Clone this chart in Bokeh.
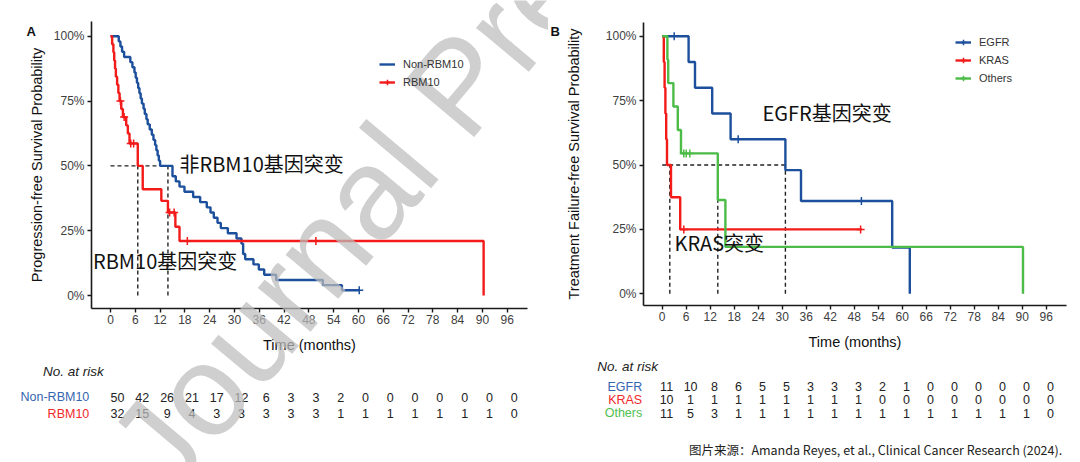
from bokeh.plotting import figure
from bokeh.models import (ColumnDataSource, FixedTicker, Label, LabelSet, Legend,
                          LegendItem, Range1d)
from bokeh.layouts import row
from bokeh.embed import file_html
from bokeh.resources import INLINE
from bokeh.core.properties import value

# ------------------------------------------------------------------ data
time_ticks = [0, 6, 12, 18, 24, 30, 36, 42, 48, 54, 60, 66, 72, 78, 84, 90, 96]
time_tick_labels = ["0", "6", "12", "18", "24", "30", "36", "42", "48", "54",
                    "60", "66", "72", "78", "84", "90", "96"]
surv_ticks = [0.0, 0.25, 0.5, 0.75, 1.0]
surv_tick_labels = ["0%", "25%", "50%", "75%", "100%"]

# Panel A : progression-free survival
a_non_t = [0, 2.0, 2.4, 2.8, 3.3, 4.8, 5.3, 5.8, 6.1, 6.4, 6.7, 7.0, 7.3, 7.6, 8.0,
           8.3, 8.7, 9.0, 9.5, 10.0, 10.4, 10.8, 11.1, 11.4, 11.7, 12.0, 15.0, 15.8,
           16.7, 17.9, 20.0, 21.7, 23.3, 24.2, 25.0, 25.9, 26.7, 28.4, 30.5, 31.7,
           32.1, 32.6, 34.6, 35.9, 37.2, 40.1, 51.4, 56.0, 60.2]
a_non_s = [1.0, 0.98, 0.96, 0.94, 0.92, 0.90, 0.88, 0.86, 0.84, 0.82, 0.80, 0.78, 0.76,
           0.74, 0.72, 0.70, 0.68, 0.66, 0.64, 0.62, 0.60, 0.58, 0.56, 0.54, 0.52, 0.50,
           0.46, 0.44, 0.42, 0.40, 0.38, 0.36, 0.34, 0.32, 0.30, 0.28, 0.26, 0.24, 0.22,
           0.20, 0.16, 0.14, 0.12, 0.10, 0.08, 0.06, 0.04, 0.02, 0.02]
a_non_cens_t = [60.2]
a_non_cens_s = [0.02]

a_rbm_t = [0, 0.4, 0.7, 0.9, 1.1, 1.3, 1.6, 1.9, 2.2, 2.6, 3.0, 3.8, 4.2, 4.6, 6.6,
           7.8, 12.3, 13.9, 15.7, 16.7, 90.3]
a_rbm_s = [1.0, 0.969, 0.938, 0.906, 0.875, 0.844, 0.813, 0.781, 0.750, 0.719, 0.688,
           0.656, 0.625, 0.586, 0.50, 0.41, 0.365, 0.32, 0.265, 0.21, 0.0]
a_rbm_cens_t = [2.4, 3.3, 4.9, 5.6, 14.3, 15.4, 18.6, 49.7]
a_rbm_cens_s = [0.75, 0.688, 0.586, 0.586, 0.32, 0.32, 0.21, 0.21]

a_medians = [6.6, 13.9]
a_risk_names = ["Non-RBM10", "RBM10"]
a_risk_non = [50, 42, 26, 21, 17, 12, 6, 3, 3, 2, 0, 0, 0, 0, 0, 0, 0]
a_risk_rbm = [32, 15, 9, 4, 3, 3, 3, 3, 3, 1, 1, 1, 1, 1, 1, 1, 0]

# Panel B : treatment failure-free survival
b_egfr_t = [0, 6.6, 8.2, 12.5, 17.1, 30.8, 34.7, 57.5, 61.9]
b_egfr_s = [1.0, 0.90, 0.80, 0.70, 0.60, 0.48, 0.36, 0.18, 0.0]
b_egfr_cens_t = [3.0, 19.0, 49.8]
b_egfr_cens_s = [1.0, 0.60, 0.36]

b_kras_t = [0, 0.4, 0.6, 0.8, 1.0, 1.2, 2.2, 4.5, 49.9]
b_kras_s = [1.0, 0.90, 0.80, 0.70, 0.60, 0.50, 0.375, 0.25, 0.25]
b_kras_cens_t = [5.4, 49.6]
b_kras_cens_s = [0.25, 0.25]

b_oth_t = [0, 1.3, 1.5, 2.8, 3.9, 4.7, 13.9, 15.8, 90.2]
b_oth_s = [1.0, 0.909, 0.818, 0.727, 0.636, 0.545, 0.364, 0.182, 0.0]
b_oth_cens_t = [5.4, 6.0, 6.9]
b_oth_cens_s = [0.545, 0.545, 0.545]

b_medians = [1.9, 13.9, 30.8]
b_risk_names = ["EGFR", "KRAS", "Others"]
b_risk_egfr = [11, 10, 8, 6, 5, 5, 3, 3, 3, 2, 1, 0, 0, 0, 0, 0, 0]
b_risk_kras = [10, 1, 1, 1, 1, 1, 1, 1, 1, 0, 0, 0, 0, 0, 0, 0, 0]
b_risk_oth = [11, 5, 3, 1, 1, 1, 1, 1, 1, 1, 1, 1, 1, 1, 1, 1, 0]

# ------------------------------------------------------------------ style
FONT = "Liberation Sans"
CJK = "Noto Sans CJK SC"
BLUE = "#1c4f9c"
RED = "#f31a1a"
GREEN = "#4cbb47"
LBLUE = "#3566b0"
LRED = "#f02a2a"
LGREEN = "#4fc04f"
H = 462
WA, WB = 548, 532


# page-pixel -> data helpers (only used to place texts / frame extents)
def A_x(px):
    return (px - 110.0) / 4.132


def A_y(py):
    return (295.0 - py) / 259.3


def B_x(px):
    return (px - 661.7) / 4.0


def B_y(py):
    return (293.3 - py) / 257.6


def base_fig(width, xr, yr, ax_x, ax_y, xb, yb, ylabel, ylab_standoff):
    p = figure(width=width, height=H, x_range=Range1d(*xr), y_range=Range1d(*yr),
               output_backend="svg", toolbar_location=None,
               min_border_left=0, min_border_right=0,
               min_border_top=0, min_border_bottom=0)
    p.grid.visible = False
    p.outline_line_color = None
    p.background_fill_color = "white"
    p.border_fill_color = "white"
    p.xaxis.ticker = FixedTicker(ticks=time_ticks)
    p.xaxis.major_label_overrides = dict(zip(time_ticks, time_tick_labels))
    p.yaxis.ticker = FixedTicker(ticks=surv_ticks)
    p.yaxis.major_label_overrides = dict(zip(surv_ticks, surv_tick_labels))
    p.xaxis.fixed_location = ax_y
    p.yaxis.fixed_location = ax_x
    p.xaxis.bounds = xb
    p.yaxis.bounds = yb
    for ax in (p.xaxis[0], p.yaxis[0]):
        ax.axis_line_color = "#1a1a1a"
        ax.axis_line_width = 1.6
        ax.major_tick_line_color = "#1a1a1a"
        ax.major_tick_line_width = 1.4
        ax.major_tick_in = 0
        ax.major_tick_out = 4
        ax.minor_tick_line_color = None
        ax.major_label_text_font = FONT
        ax.major_label_text_font_size = "12px"
        ax.major_label_text_color = "#404040"
        ax.axis_label_text_font = FONT
        ax.axis_label_text_font_size = "14.5px"
        ax.axis_label_text_font_style = "normal"
        ax.axis_label_text_color = "#111111"
    p.xaxis.axis_label = "Time (months)"
    p.yaxis.axis_label = ylabel
    p.xaxis.major_label_standoff = 2
    p.yaxis.major_label_standoff = 3
    p.xaxis.axis_label_standoff = 10
    p.yaxis.axis_label_standoff = ylab_standoff
    return p


def km(p, t, s, ct, cs, color):
    r = p.step(x=t, y=s, mode="after", line_color=color, line_width=2.4)
    c = p.scatter(x=ct, y=cs, marker="cross", size=8, line_color=color, line_width=1.5)
    return r, c


def medians(p, meds):
    p.line(x=[0, max(meds)], y=[0.5, 0.5], line_color="#222222", line_width=1.4,
           line_dash="4 3")
    p.segment(x0=meds, y0=[0] * len(meds), x1=meds, y1=[0.5] * len(meds),
              line_color="#222222", line_width=1.4, line_dash="4 3")


def legend(p, items, loc):
    lg = Legend(items=items, location=loc, padding=0, margin=0, spacing=4,
                glyph_width=16, glyph_height=14, label_height=14, label_standoff=8,
                border_line_alpha=0, background_fill_alpha=0,
                label_text_font=FONT, label_text_font_size="11px",
                label_text_color="#333333")
    p.add_layout(lg)


def text(p, x, y, s, size, font=FONT, align="left", color="#111111", style="normal"):
    p.add_layout(Label(x=x, y=y, text=s, text_font=font, text_font_size=size,
                       text_align=align, text_baseline="middle", text_color=color,
                       text_font_style=style))


def risk_table(p, fx, fy, names, rows, colors, row_ys, label_right, title_xy, offset):
    text(p, fx(title_xy[0]), fy(title_xy[1]), "No. at risk", "13.5px", style="italic",
         color="#222222")
    for name, counts, col, ry in zip(names, rows, colors, row_ys):
        text(p, fx(label_right), fy(ry), name, "12.5px", align="right", color=col)
        src = ColumnDataSource(dict(x=[t + offset for t in time_ticks],
                                    y=[fy(ry)] * len(time_ticks),
                                    t=[str(c) for c in counts]))
        p.add_layout(LabelSet(x="x", y="y", text="t", source=src,
                              text_font=value(FONT), text_font_size=value("12.5px"),
                              text_align="center", text_baseline="middle",
                              text_color="#222222"))


# ------------------------------------------------------------------ panel A
pa = base_fig(WA, (A_x(0), A_x(WA)), (A_y(H), A_y(0)), A_x(91), A_y(308),
              (A_x(91), A_x(527)), (A_y(308), A_y(21)),
              "Progression-free Survival Probability", 6)
medians(pa, a_medians)
ra1, ca1 = km(pa, a_non_t, a_non_s, a_non_cens_t, a_non_cens_s, BLUE)
ra2, ca2 = km(pa, a_rbm_t, a_rbm_s, a_rbm_cens_t, a_rbm_cens_s, RED)
legend(pa, [LegendItem(label=a_risk_names[0], renderers=[ra1]),
            LegendItem(label=a_risk_names[1], renderers=[ra2, ca2])], (379, 373))
text(pa, A_x(26), A_y(31), "A", "13px", style="bold")
text(pa, A_x(179), A_y(163), "非RBM10基因突变", "20px", font=CJK)
text(pa, A_x(92.5), A_y(260), "RBM10基因突变", "20px", font=CJK)
risk_table(pa, A_x, A_y, a_risk_names, [a_risk_non, a_risk_rbm], [LBLUE, LRED],
           [396.7, 413.3], 88.8, (42.4, 370.7), 1.7)
# source-page watermark ("Journal Pre-proof"), semi-transparent over panel A
pa.add_layout(Label(x=A_x(135), y=A_y(470), text="Journal Pre-proof",
                    text_font=FONT, text_font_size="130px", text_color="#bdbdbd",
                    text_alpha=0.72, angle=50, angle_units="deg",
                    text_baseline="alphabetic", text_align="left"))

# ------------------------------------------------------------------ panel B
pb = base_fig(WB, (B_x(WA), B_x(WA + WB)), (B_y(H), B_y(0)), B_x(643), B_y(305),
              (B_x(643), B_x(1066)), (B_y(305), B_y(22)),
              "Treatment Failure-free Survival Probability", 21)
medians(pb, b_medians)
rb1, cb1 = km(pb, b_egfr_t, b_egfr_s, b_egfr_cens_t, b_egfr_cens_s, BLUE)
rb2, cb2 = km(pb, b_kras_t, b_kras_s, b_kras_cens_t, b_kras_cens_s, RED)
rb3, cb3 = km(pb, b_oth_t, b_oth_s, b_oth_cens_t, b_oth_cens_s, GREEN)
legend(pb, [LegendItem(label=b_risk_names[0], renderers=[rb1, cb1]),
            LegendItem(label=b_risk_names[1], renderers=[rb2, cb2]),
            LegendItem(label=b_risk_names[2], renderers=[rb3, cb3])], (407, 377))
text(pb, B_x(550), B_y(31), "B", "13px", style="bold")
text(pb, B_x(762), B_y(112), "EGFR基因突变", "20px", font=CJK)
text(pb, B_x(674), B_y(242), "KRAS突变", "20px", font=CJK)
risk_table(pb, B_x, B_y, b_risk_names, [b_risk_egfr, b_risk_kras, b_risk_oth],
           [LBLUE, LRED, LGREEN], [386.0, 399.3, 412.7], 641.7, (596.7, 365.7), 1.1)
text(pb, B_x(1061.7), B_y(449), "图片来源：Amanda Reyes, et al., Clinical Cancer Research (2024).",
     "12.5px", font=CJK, align="right", color="#222222")

layout = row(pa, pb)
open("out.html", "w").write(file_html(layout, INLINE))
